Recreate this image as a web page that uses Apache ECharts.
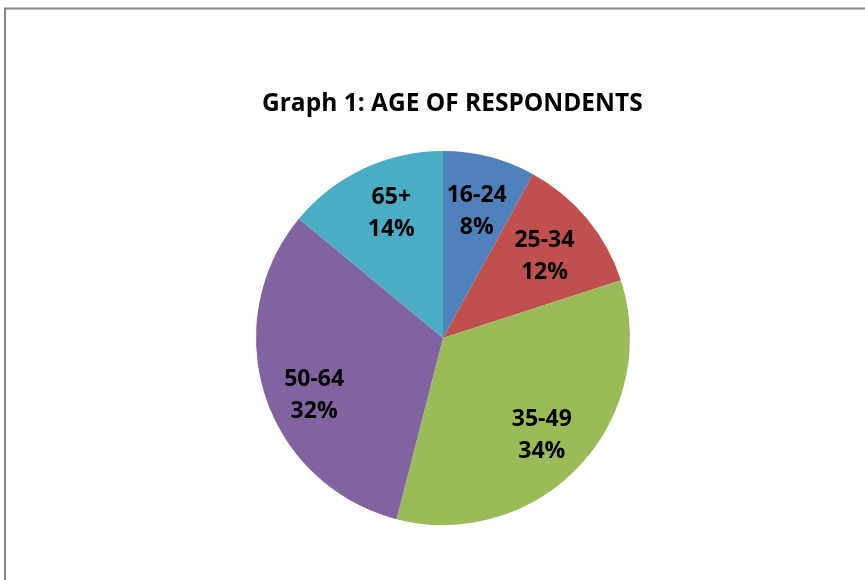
<!DOCTYPE html>
<html>
<head>
<meta charset="utf-8">
<script src="https://cdn.jsdelivr.net/npm/echarts@6/dist/echarts.min.js"></script>
<style>html,body{margin:0;padding:0;background:#fff}#c{width:865px;height:580px}</style>
</head>
<body>
<div id="c"></div>
<script>
const titleText = 'Graph 1: AGE OF RESPONDENTS';
const categories = ['16-24', '25-34', '35-49', '50-64', '65+'];
const values = [8, 12, 34, 32, 14];
const colors = ['#4F81BD', '#C0504D', '#9BBB59', '#8064A2', '#4BACC6'];
// small label nudges (style only), matching the original layout
const labelNudges = [[0, 0], [-3, 0], [0, 0], [0, 11], [6, -7]];

const chart = echarts.init(document.getElementById('c'), null, {renderer: 'canvas'});
const data = categories.map((c, i) => ({name: c, value: values[i], itemStyle: {color: colors[i]}}));
const fontFam = '"Open Sans", "Liberation Sans", sans-serif';
chart.setOption({
  backgroundColor: '#fff',
  animation: false,
  title: {
    text: titleText, left: 257, top: 87,
    textStyle: {fontFamily: fontFam, fontWeight: 'bold', fontSize: 24.5, color: '#000'}
  },
  graphic: [{
    type: 'rect', shape: {x: 5, y: 8.5, width: 900, height: 600},
    style: {fill: 'none', stroke: '#868686', lineWidth: 2}, silent: true
  }],
  series: [{
    type: 'pie', center: [443, 338], radius: [0, 187], startAngle: 90, clockwise: true,
    data: data, label: {show: false}, labelLine: {show: false}, silent: true
  }, {
    type: 'pie', center: [443, 343], radius: [78, 187], startAngle: 90, clockwise: true,
    data: data.map((d, i) => ({name: d.name, value: d.value, itemStyle: {color: 'rgba(0,0,0,0)'},
      label: {offset: labelNudges[i]}})),
    silent: true,
    label: {
      show: true, position: 'inside', formatter: p => p.name + '\n' + p.value + '%',
      fontFamily: fontFam, fontWeight: 'bold', fontSize: 23, lineHeight: 32, color: '#000'
    },
    labelLine: {show: false}
  }]
});
</script>
</body>
</html>
